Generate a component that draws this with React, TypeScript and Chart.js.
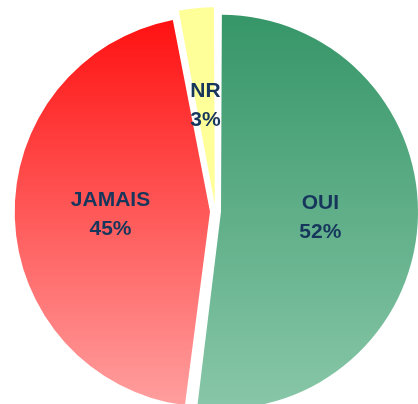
import React, { useEffect, useRef } from "react";
import { Chart, registerables } from "chart.js";

Chart.register(...registerables);

const categories = ["OUI", "JAMAIS", "NR"];
const values = [52, 45, 3];
const percentLabels = ["52%", "45%", "3%"];
// Chart.js draws an arc shifted by offset/4
const offsets = [22, 22, 28];

const gradientStops: [string, string][] = [
  ["#369668", "#8ac8aa"],
  ["#ff0f0f", "#ffa3a3"],
  ["#ffff99", "#ffff99"],
];

const labelPlugin = {
  id: "sliceLabels",
  afterDatasetsDraw(chart: any) {
    const ctx = chart.ctx;
    const meta = chart.getDatasetMeta(0);
    ctx.save();
    ctx.fillStyle = "#16365c";
    ctx.font = "bold 21px 'Liberation Sans', Arial, sans-serif";
    ctx.textAlign = "center";
    ctx.textBaseline = "middle";
    meta.data.forEach((arc: any, i: number) => {
      const mid = (arc.startAngle + arc.endAngle) / 2;
      const d = (arc.options.offset || 0) / 4 + arc.outerRadius * 0.52;
      const x = arc.x + Math.cos(mid) * d;
      const y = arc.y + Math.sin(mid) * d;
      ctx.fillText(categories[i], x, y - 14.5);
      ctx.fillText(percentLabels[i], x, y + 14.5);
    });
    ctx.restore();
  },
};

export default function App() {
  const ref = useRef<HTMLCanvasElement>(null);
  useEffect(() => {
    document.body.style.margin = "0";
    document.body.style.overflow = "hidden";
    const canvas = ref.current!;
    const chart = new Chart(canvas, {
      type: "pie",
      data: {
        labels: categories,
        datasets: [
          {
            data: values,
            offset: offsets,
            borderWidth: 0,
            backgroundColor: (c: any) => {
              const ch = c.chart;
              const area = ch.chartArea;
              const stops = gradientStops[c.dataIndex] || gradientStops[0];
              if (!area) return stops[0];
              const g = ch.ctx.createLinearGradient(0, area.top + 8, 0, area.bottom);
              g.addColorStop(0, stops[0]);
              g.addColorStop(1, stops[1]);
              return g;
            },
          },
        ],
      },
      options: {
        responsive: false,
        animation: false,
        layout: { padding: { left: 10, right: 10, top: 6, bottom: 7 } },
        plugins: {
          legend: { display: false },
          tooltip: { enabled: false },
        },
      },
      plugins: [labelPlugin],
    });
    return () => chart.destroy();
  }, []);
  return (
    <div style={{ position: "fixed", left: 0, top: 0, width: 418, height: 404, overflow: "hidden", background: "#fff" }}>
      <canvas ref={ref} width={431} height={424} style={{ display: "block" }} />
    </div>
  );
}
